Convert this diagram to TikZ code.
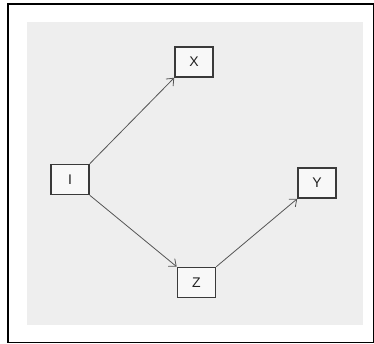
\documentclass[tikz,border=0pt]{standalone}
\usepackage{fontspec}
\setmainfont{Liberation Sans}
\usetikzlibrary{arrows.meta}
\definecolor{bggray}{HTML}{EEEEEE}
\definecolor{boxfill}{HTML}{F8F8F8}
\definecolor{edgegray}{HTML}{3A3A3A}
\definecolor{linegray}{HTML}{555555}
\definecolor{textgray}{HTML}{222222}
\tikzset{
  varbox/.style={draw=edgegray, line width=1.6pt, fill=boxfill, text=textgray, minimum width=38pt, minimum height=30pt, inner sep=0pt, font=\fontsize{14}{16}\selectfont},
  link/.style={draw=linegray, line width=0.8pt, -{Straight Barb[length=6pt,width=10pt]}}
}
\begin{document}
\begin{tikzpicture}[x=1pt,y=1pt]
\useasboundingbox (0,0) rectangle (374,344);
\draw[black, line width=1.2pt] (8,1.5) rectangle (373.4,340);
\fill[bggray] (27,19) rectangle (363,321.5);
\node[varbox] (I) at (70,164.5) {I};
\node[varbox] (X) at (194,282) {X};
\node[varbox] (Y) at (317,161) {Y};
\node[varbox] (Z) at (196.5,61.5) {Z};
\draw[link] (I.north east) -- (X.south west);
\draw[link] (I.south east) -- (Z.north west);
\draw[link] (Z.north east) -- (Y.south west);
\end{tikzpicture}
\end{document}
